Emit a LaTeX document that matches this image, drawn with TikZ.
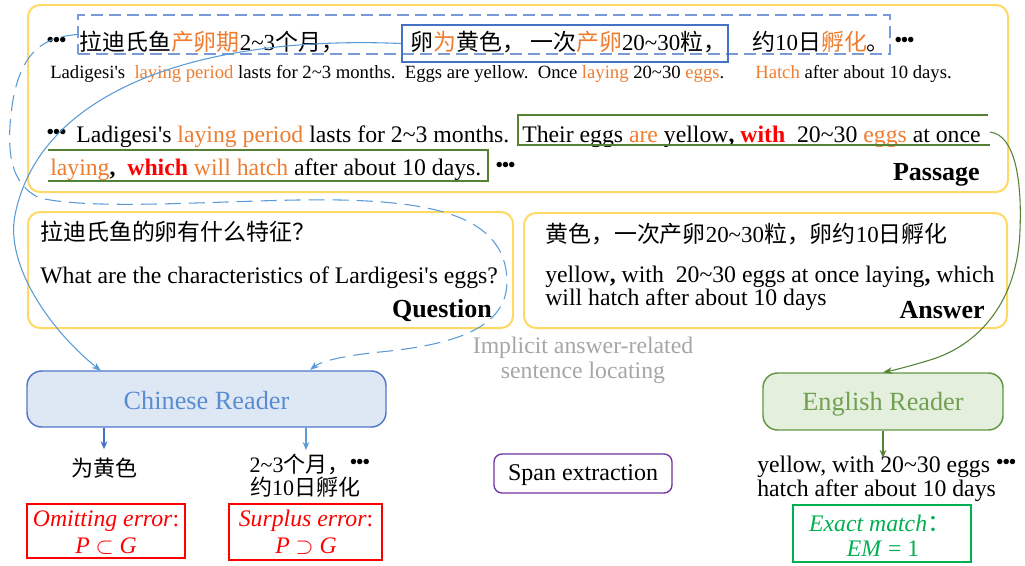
\documentclass[tikz,border=0pt]{standalone}
\usepackage{fontspec}
\setmainfont{Liberation Serif}
\newfontfamily\cjk{Noto Sans CJK SC}
\usetikzlibrary{fit,arrows.meta,calc}
\definecolor{yel}{RGB}{255,217,102}
\definecolor{orn}{RGB}{237,125,49}
\definecolor{bdash}{RGB}{120,155,215}
\definecolor{bsolid}{RGB}{68,114,196}
\definecolor{bcurve}{RGB}{91,155,213}
\definecolor{gbox}{RGB}{84,130,53}
\definecolor{crfill}{RGB}{222,232,245}
\definecolor{crdraw}{RGB}{80,120,200}
\definecolor{crtext}{RGB}{90,140,210}
\definecolor{erfill}{RGB}{228,239,222}
\definecolor{erdraw}{RGB}{100,150,70}
\definecolor{ertext}{RGB}{112,160,80}
\definecolor{purp}{RGB}{112,48,160}
\definecolor{emg}{RGB}{0,176,80}
\definecolor{gry}{RGB}{166,166,166}
\newcommand\og[1]{\textcolor{orn}{#1}}
\newcommand\rb[1]{\textcolor{red}{\textbf{#1}}}
\newcommand\zh[1]{{\cjk #1}}
\newcommand\tld{\textasciitilde}
\newcommand\aps{\textquotesingle}
\newcommand\mydots{\raisebox{0.12em}{\fontsize{17}{17}\selectfont\textbullet\kern-1.2pt\textbullet\kern-1.2pt\textbullet}}
\newcommand\fbig{\fontsize{17.8}{21}\selectfont}
\newcommand\fsmall{\fontsize{14}{16}\selectfont}
\newcommand\fzh{\fontsize{17.2}{20}\selectfont}
\newcommand\fzhb{\fontsize{16.5}{20}\selectfont}
\newcommand\flab{\fontsize{19.5}{22}\selectfont}
\newcommand\fread{\fontsize{19.7}{22}\selectfont}
\newcommand\fspan{\fontsize{18}{21}\selectfont}
\begin{document}
\begin{tikzpicture}[x=0.75pt,y=-0.75pt,
  tx/.style={inner sep=0pt, anchor=base west},
  ybox/.style={draw=yel, line width=1.5pt, rounded corners=9pt, inner sep=0pt},
  dbox/.style={draw=bdash, line width=1.1pt, dash pattern=on 9pt off 4.5pt, inner sep=0pt},
  sbox/.style={draw=bsolid, line width=1.1pt, inner sep=0pt},
  gline/.style={draw=gbox, line width=0.9pt},
  crbox/.style={draw=crdraw, fill=crfill, line width=1.1pt, rounded corners=11pt, inner sep=0pt},
  erbox/.style={draw=erdraw, fill=erfill, line width=1.1pt, rounded corners=11pt, inner sep=0pt},
  bcon/.style={draw=bcurve, line width=0.8pt, -{Stealth[length=7pt,width=5pt]}},
  gcon/.style={draw=gbox, line width=0.8pt, -{Stealth[length=7pt,width=5pt]}},
  ]
\useasboundingbox (0,0) rectangle (1025,565);

% ---------- Passage ----------
\node[ybox, fit={(28,5) (1008,192)}] (passage) {};
\node[dbox, fit={(78,15) (890,54)}] (dashbox) {};
\node[sbox, fit={(402,25) (728,62)}] (cnbox) {};

\node[tx,font=\fzh] (d1) at (46,50) {\mydots};
\node[tx,font=\fzh] (zh1) at (79,50) {\zh{拉迪氏鱼}\og{\zh{产卵期}}2\tld3\zh{个月，}};
\node[tx,font=\fzh] (zh2) at (410,50) {\zh{卵}\og{\zh{为}}\zh{黄色，}\hspace{4pt}\zh{一次}\og{\zh{产卵}}20\tld30\zh{粒，}};
\node[tx,font=\fzh] (zh3) at (752,50) {\zh{约}10\zh{日}\og{\zh{孵化}}\zh{。}};
\node[tx,font=\fzh] (d2) at (894,50) {\mydots};

\node[tx,font=\fsmall] (en1) at (50,78) {Ladigesi\aps s\ \ \og{laying period} lasts for 2\tld3 months.\ \ Eggs are yellow.\ \ Once \og{laying} 20\tld30 \og{eggs}.};
\node[tx,font=\fsmall] (en2) at (755,78) {\og{Hatch} after about 10 days.};

\node[tx,font=\fbig] (d3) at (46,142) {\mydots};
\node[tx,font=\fbig] (l1a) at (76,142) {Ladigesi\aps s \og{laying period} lasts for 2\tld3 months.};
\node[tx,font=\fbig] (l1b) at (522,142) {Their eggs \og{are} yellow\textbf{,} \rb{with}\ \ 20\tld30 \og{eggs} at once};
\node[tx,font=\fbig] (l2a) at (50,175) {\og{laying}\textbf{,}\ \ \rb{which} \og{will hatch} after about 10 days.};
\node[tx,font=\fbig] (d4) at (495,175) {\mydots};

\draw[gline] (988,115) -- (518,115) -- (518,145) -- (990,145);
\draw[gline] (48,150) -- (488,150) -- (488,181) -- (48,181);

\node[tx,anchor=base east,font=\flab\bfseries] (plab) at (980,180) {Passage};

% ---------- Question ----------
\node[ybox, fit={(28,212) (513,328)}] (question) {};
\node[tx,font=\fzh] (q1) at (40,240) {\zh{拉迪氏鱼的卵有什么特征？}};
\node[tx,font=\fbig] (q2) at (40,283) {What are the characteristics of Lardigesi\aps s eggs?};
\node[tx,anchor=base east,font=\flab\bfseries] (qlab) at (492,317) {Question};

% ---------- Answer ----------
\node[ybox, fit={(524,213) (1007,328)}] (answer) {};
\node[tx,font=\fzh] (a1) at (545,242) {\zh{黄色，一次产卵}20\tld30\zh{粒，卵约}10\zh{日孵化}};
\node[tx,font=\fbig] (a2) at (545,282) {yellow\textbf{,} with\ \ 20\tld30 eggs at once laying\textbf{,} which};
\node[tx,font=\fbig] (a3) at (545,305) {will hatch after about 10 days};
\node[tx,anchor=base east,font=\flab\bfseries] (alab) at (985,318) {Answer};

% ---------- middle label ----------
\node[inner sep=0pt, anchor=base, font=\fbig, text=gry] (imp1) at (583,353) {Implicit answer-related};
\node[inner sep=0pt, anchor=base, font=\fbig, text=gry] (imp2) at (583,378) {sentence locating};

% ---------- Readers ----------
\node[crbox, fit={(27,371) (386,427)}] (cr) {};
\node[font=\fread, text=crtext] (crt) at ([yshift=-1pt]cr.center) {Chinese Reader};
\node[erbox, fit={(763,373) (1003,430)}] (er) {};
\node[font=\fread, text=ertext] (ert) at ([yshift=-2pt]er.center) {English Reader};

\node[draw=purp, line width=1pt, rounded corners=6pt, fit={(494,454) (672,493)}, inner sep=0pt] (span) {};
\node[font=\fspan] (spant) at ([yshift=-1pt]span.center) {Span extraction};

% ---------- outputs ----------
\node[inner sep=0pt, font=\fzhb, anchor=base] (o1) at (104,476) {\zh{为黄色}};
\node[inner sep=0pt, font=\fzhb, anchor=base] (o2a) at (310,472) {2\tld3\zh{个月，}\mydots};
\node[inner sep=0pt, font=\fzhb, anchor=base] (o2b) at (305,495) {\zh{约}10\zh{日孵化}};
\coordinate (a2end) at (306,450);

\node[tx,font=\fbig] (eo1) at (757,472) {yellow, with 20\tld30 eggs \mydots};
\node[tx,font=\fbig] (eo2) at (757,496) {hatch after about 10 days};

\draw[draw=bsolid, line width=1.1pt, -{Stealth[length=6pt,width=5pt]}] (cr.south -| o1) -- ([yshift=6pt]o1.north);
\draw[draw=bcurve, line width=1.1pt, -{Stealth[length=6pt,width=5pt]}] (cr.south -| a2end) -- (a2end);
\draw[draw=gbox, line width=1.1pt, -{Stealth[length=6pt,width=5pt]}] (er.south) -- ([yshift=-2pt]er.south |- eo1.north);

% ---------- error boxes ----------
\node[draw=red, line width=0.8pt, fit={(27,504) (185,558)}, inner sep=0pt] (om) {};
\node[inner sep=0pt, font=\fbig, text=red, anchor=base] (omt1) at (106,526) {\textit{Omitting error}:};
\node[inner sep=0pt, font=\fbig, text=red, anchor=base] (omt2) at (106,553) {\textit{P} $\subset$ \textit{G}};
\node[draw=red, line width=0.8pt, fit={(229,504) (382,560)}, inner sep=0pt] (su) {};
\node[inner sep=0pt, font=\fbig, text=red, anchor=base] (sut1) at (306,526) {\textit{Surplus error}:};
\node[inner sep=0pt, font=\fbig, text=red, anchor=base] (sut2) at (306,553) {\textit{P} $\supset$ \textit{G}};
\node[draw=emg, line width=1.1pt, fit={(793,505) (971,562)}, inner sep=0pt] (em) {};
\node[inner sep=0pt, font=\fbig, text=emg, anchor=base] (emt1) at (880,531) {\textit{Exact match}\zh{：}};
\node[inner sep=0pt, font=\fbig, text=emg, anchor=base] (emt2) at (883,556) {\textit{EM} = 1};

% ---------- connectors ----------
\coordinate (crin1) at (101,371);
\coordinate (crin2) at (310,370);
\coordinate (gstart) at (990,132);
\draw[bcon] (cnbox.west) .. controls (200,35) and (40,90) .. (15,215)
  .. controls (5,265) and (50,330) .. (crin1);
\draw[bcon, dash pattern=on 12pt off 6pt] (dashbox.west) .. controls (45,37) and (22,50) .. (13,100)
  .. controls (5,150) and (10,185) .. (40,198)
  .. controls (100,212) and (250,198) .. (340,200)
  .. controls (430,202) and (505,215) .. (507,280)
  .. controls (508,330) and (450,345) .. (380,352)
  .. controls (340,356) and (320,362) .. (crin2);
\draw[gcon] (gstart) .. controls (1015,135) and (1022,180) .. (1020,230)
  .. controls (1018,300) and (980,345) .. (930,360)
  .. controls (910,366) and (895,370) .. (er.north);
\end{tikzpicture}
\end{document}
